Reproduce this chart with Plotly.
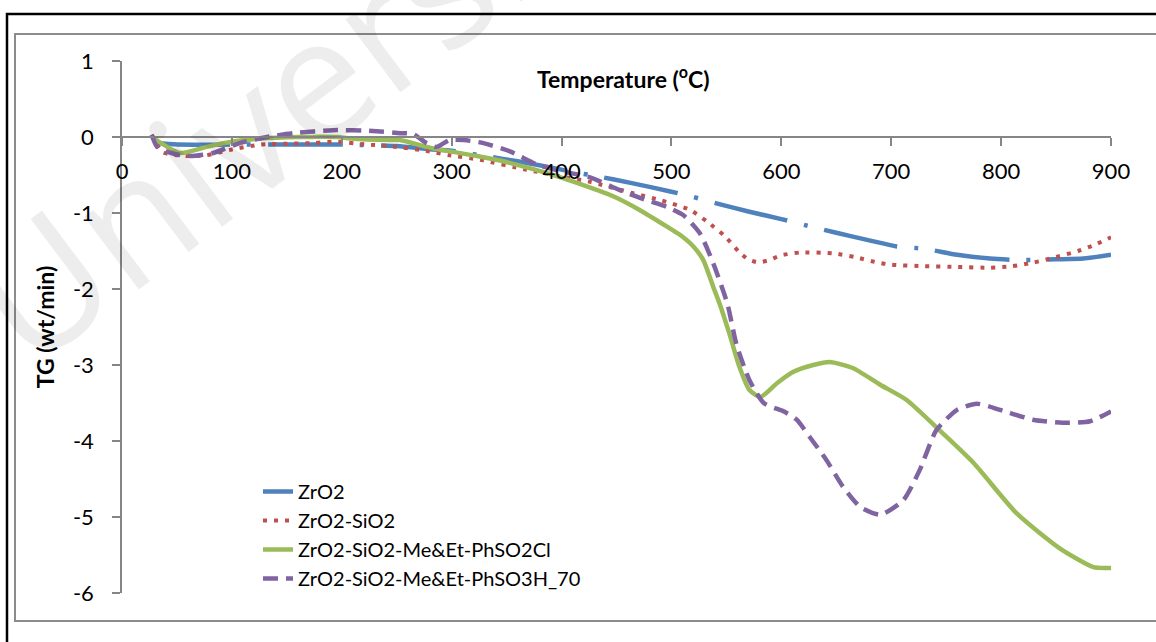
import plotly.graph_objects as go

# ---------------- data ----------------
zro2_T = [30, 50, 100, 150, 200, 250, 280, 300, 330, 360, 390, 410, 430, 465, 500, 520, 540, 570,
          600, 630, 650, 680, 705, 730, 760, 790, 820, 850, 875, 900]
zro2_TG = [-0.08, -0.1, -0.1, -0.1, -0.1, -0.12, -0.16, -0.18, -0.25, -0.32, -0.4, -0.46, -0.51, -0.61,
           -0.72, -0.79, -0.87, -0.98, -1.08, -1.19, -1.26, -1.36, -1.44, -1.47, -1.55, -1.6, -1.62,
           -1.61, -1.6, -1.55]

zs_T = [27, 37, 59, 77, 98, 126, 144, 174, 194, 223, 244, 280, 298, 326, 368, 400, 426, 465, 490, 517,
        533, 549, 562, 570, 579, 589, 599, 617, 647, 667, 687, 700, 730, 760, 790, 810, 830, 850, 870,
        885, 900]
zs_TG = [0.03, -0.2, -0.25, -0.24, -0.17, -0.1, -0.09, -0.08, -0.06, -0.1, -0.12, -0.19, -0.24, -0.30,
         -0.43, -0.52, -0.59, -0.74, -0.83, -0.96, -1.12, -1.31, -1.52, -1.61, -1.65, -1.62, -1.56, -1.52,
         -1.53, -1.58, -1.65, -1.68, -1.7, -1.71, -1.72, -1.7, -1.65, -1.58, -1.5, -1.42, -1.32]

cl_T = [27, 53, 77, 101, 126, 162, 196, 208, 244, 253, 283, 323, 344, 383, 423, 447, 471, 496, 508, 520,
        529, 538, 544, 553, 562, 571, 581, 596, 611, 629, 644, 665, 690, 714, 747, 775, 814, 853, 884, 900]
cl_TG = [0, -0.21, -0.13, -0.06, -0.02, 0, 0, -0.02, -0.04, -0.04, -0.15, -0.25, -0.31, -0.46, -0.65,
         -0.78, -0.96, -1.18, -1.29, -1.44, -1.62, -1.97, -2.2, -2.6, -3.03, -3.33, -3.42, -3.24, -3.09,
         -3.0, -2.96, -3.04, -3.26, -3.46, -3.9, -4.29, -4.95, -5.41, -5.66, -5.67]

so3h_T = [27, 32, 47, 62, 83, 107, 132, 156, 192, 228, 253, 265, 277, 286, 298, 311, 329, 353, 379, 400,
          426, 453, 477, 496, 511, 526, 538, 551, 559, 571, 584, 602, 614, 626, 641, 656, 672, 690, 711,
          726, 741, 760, 778, 799, 829, 856, 881, 900]
so3h_TG = [0.03, -0.13, -0.22, -0.25, -0.21, -0.08, 0, 0.05, 0.09, 0.08, 0.05, 0.04, -0.08, -0.13, -0.04,
           -0.04, -0.08, -0.19, -0.37, -0.45, -0.53, -0.70, -0.83, -0.92, -1.03, -1.27, -1.66, -2.2, -2.72,
           -3.2, -3.5, -3.61, -3.72, -3.95, -4.25, -4.6, -4.87, -4.97, -4.78, -4.38, -3.86, -3.59, -3.51,
           -3.59, -3.72, -3.76, -3.74, -3.61]

names = ["ZrO2", "ZrO2-SiO2", "ZrO2-SiO2-Me&Et-PhSO2Cl", "ZrO2-SiO2-Me&Et-PhSO3H_70"]
x_ticks = [0, 100, 200, 300, 400, 500, 600, 700, 800, 900]
y_ticks = [-6, -5, -4, -3, -2, -1, 0, 1]
x_ticklabels = ["0", "100", "200", "300", "400", "500", "600", "700", "800", "900"]
y_ticklabels = ["-6", "-5", "-4", "-3", "-2", "-1", "0", "1"]
x_range = [0, 900]
y_range = [-6, 1]

FONT = "Lato"
W, H = 1156, 642
ML, MR, MT, MB = 122, 45, 61, 49
PW, PH = W - ML - MR, H - MT - MB


def px(xp):
    return (xp - ML) / PW


def py(yp):
    return (H - MB - yp) / PH


fig = go.Figure()
fig.add_trace(go.Scatter(x=zro2_T, y=zro2_TG, name=names[0], mode="lines",
                         line=dict(color="#4F81BD", width=4.5, dash="75px,17px,4px,17px", shape="spline", smoothing=0.6)))
fig.add_trace(go.Scatter(x=zs_T, y=zs_TG, name=names[1], mode="lines",
                         line=dict(color="#C0504D", width=4, dash="4px,7px", shape="spline", smoothing=0.6)))
fig.add_trace(go.Scatter(x=cl_T, y=cl_TG, name=names[2], mode="lines",
                         line=dict(color="#9BBB59", width=4.5, shape="spline", smoothing=0.6)))
fig.add_trace(go.Scatter(x=so3h_T, y=so3h_TG, name=names[3], mode="lines",
                         line=dict(color="#8064A2", width=4.5, dash="15px,8px", shape="spline", smoothing=0.6)))

axis_pos = (0 - y_range[0]) / (y_range[1] - y_range[0])

fig.update_layout(
    width=W, height=H, autosize=False,
    margin=dict(l=ML, r=MR, t=MT, b=MB, pad=0),
    paper_bgcolor="white", plot_bgcolor="white",
    font=dict(family=FONT, size=20, color="black"),
    showlegend=True,
    legend=dict(x=px(258), y=py(472), xanchor="left", yanchor="top",
                bgcolor="rgba(0,0,0,0)", font=dict(family=FONT, size=20, color="black"),
                tracegroupgap=0, itemwidth=30),
    xaxis=dict(range=x_range, tickvals=x_ticks, ticktext=x_ticklabels, showline=True,
               linecolor="#868686", linewidth=1.5,
               ticks="outside", ticklen=8, tickcolor="#868686", tickwidth=1.5, showgrid=False,
               zeroline=False, anchor="free", position=axis_pos, ticklabelstandoff=7,
               tickfont=dict(family=FONT, size=22, color="black")),
    yaxis=dict(range=y_range, tickvals=y_ticks, ticktext=y_ticklabels, showline=True,
               linecolor="#868686", linewidth=1.5,
               ticks="outside", ticklen=8, tickcolor="#868686", tickwidth=1.5, showgrid=False,
               zeroline=False, ticklabelstandoff=14,
               tickfont=dict(family=FONT, size=22, color="black"),
               title=dict(text="<b>TG (wt/min)</b>", font=dict(family=FONT, size=23, color="black"),
                          standoff=12)),
    shapes=[
        dict(type="rect", xref="paper", yref="paper", x0=px(7), x1=px(1175), y0=py(14), y1=py(660),
             line=dict(color="black", width=2.5), fillcolor="rgba(0,0,0,0)", layer="below"),
        dict(type="rect", xref="paper", yref="paper", x0=px(15), x1=px(1170), y0=py(34), y1=py(621),
             line=dict(color="#8c8c8c", width=2), fillcolor="rgba(0,0,0,0)", layer="below"),
    ],
    annotations=[
        dict(text="<b>Temperature (<sup>o</sup>C)</b>", xref="paper", yref="paper", x=px(623), y=py(78),
             xanchor="center", yanchor="middle", showarrow=False,
             font=dict(family=FONT, size=23, color="black")),
        dict(text="Universiti Malaya", xref="paper", yref="paper", x=px(530), y=py(-88),
             xanchor="center", yanchor="middle", showarrow=False, textangle=-37,
             font=dict(family="Open Sans", size=170, color="rgba(0,0,0,0.07)")),
    ],
)

fig.write_html("out.html")
